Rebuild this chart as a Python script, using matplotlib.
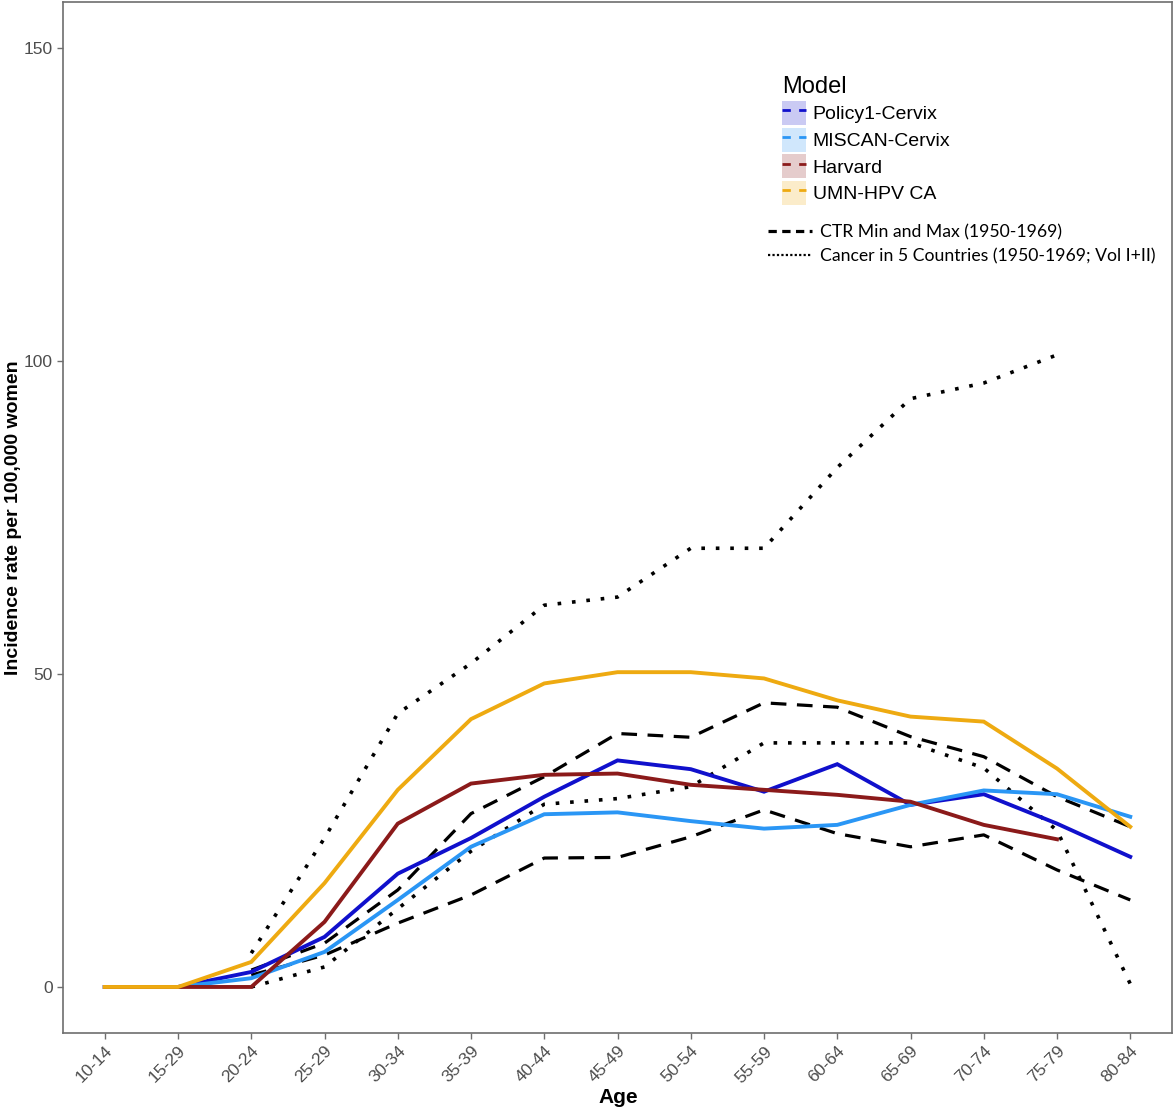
import numpy as np
import matplotlib
matplotlib.use("Agg")
import matplotlib.pyplot as plt
from matplotlib.patches import Patch
from matplotlib.lines import Line2D

plt.rcParams['font.family'] = ['Liberation Sans', 'DejaVu Sans']

nan = np.nan

# age groups (the "15-29" label is as in the original)
ages = ['10-14', '15-29', '20-24', '25-29', '30-34', '35-39', '40-44', '45-49',
        '50-54', '55-59', '60-64', '65-69', '70-74', '75-79', '80-84']

# model outputs, incidence per 100,000 women
policy1 = [0, 0, 2.4, 8.0, 18.1, 23.8, 30.4, 36.2, 34.8, 31.2, 35.6, 29.1, 30.8, 26.1, 20.8]
miscan = [0, 0, 1.4, 5.6, 13.9, 22.4, 27.6, 27.9, 26.5, 25.3, 25.9, 29.1, 31.4, 30.8, 27.2]
harvard = [0, 0, 0, 10.4, 26.1, 32.5, 33.9, 34.1, 32.3, 31.5, 30.7, 29.6, 25.9, 23.6, nan]
umn = [0, 0, 4.0, 16.6, 31.5, 42.8, 48.5, 50.3, 50.3, 49.3, 45.8, 43.2, 42.4, 34.9, 25.6]

# observed data
ctr_max = [nan, nan, 2.7, 7.0, 15.5, 27.7, 33.6, 40.5, 39.9, 45.4, 44.7, 40.0, 36.8, 30.4, 25.6]
ctr_min = [nan, nan, 1.9, 5.1, 10.2, 14.7, 20.6, 20.7, 24.0, 28.3, 24.5, 22.4, 24.3, 18.7, 13.9]
c5_upper = [nan, nan, 5.4, 23.8, 43.7, 51.7, 61.0, 62.3, 70.1, 70.1, 83.0, 94.0, 96.5, 101.0, nan]
c5_lower = [nan, nan, 0, 3.2, 12.5, 21.7, 29.2, 30.1, 32.0, 39.0, 39.0, 39.0, 35.0, 25.0, 0.5]

model_names = ['Policy1-Cervix', 'MISCAN-Cervix', 'Harvard', 'UMN-HPV CA']
model_colors = ['#1010CC', '#2A96F5', '#8B1A1A', '#EEAA11']
model_data = [policy1, miscan, harvard, umn]

fig = plt.figure(figsize=(11.76, 11.10), dpi=100)
ax = fig.add_axes([0.0536, 0.0694, 0.943, 0.9286])
x = np.arange(len(ages))

# observed lines first
dash = (0, (4.9, 3.3))
dot = (0, (1, 3))
ax.plot(x, ctr_max, color='black', lw=2.3, linestyle=dash)
ax.plot(x, ctr_min, color='black', lw=2.3, linestyle=dash)
ax.plot(x, c5_upper, color='black', lw=2.6, linestyle=dot)
ax.plot(x, c5_lower, color='black', lw=2.6, linestyle=dot)

for vals, col in zip(model_data, model_colors):
    ax.plot(x, vals, color=col, lw=2.8, solid_joinstyle='miter')

ax.set_xlim(-0.57, 14.57)
ax.set_ylim(-7.35, 157.35)
ax.set_xticks(x)
ax.set_xticklabels(ages, rotation=45, ha='right', rotation_mode='anchor')
ax.set_yticks([0, 50, 100, 150])
ax.tick_params(colors='#6E6E6E', labelcolor='#4D4D4D', labelsize=12.5, length=4, width=1)
for sp in ax.spines.values():
    sp.set_color('#6E6E6E')
    sp.set_linewidth(1.2)

narrow = ['Liberation Sans Narrow', 'Liberation Sans', 'DejaVu Sans']
ax.set_xlabel('Age', fontsize=15, fontweight='bold', family=narrow)
ax.xaxis.set_label_coords(0.5005, -0.053)
ax.set_ylabel('Incidence rate per 100,000 women', fontsize=14, fontweight='bold', family=narrow)
ax.yaxis.set_label_coords(-0.037, 0.5)

# model legend: light fill box with a dashed line on it
handles = []
for col in model_colors:
    handles.append((Patch(facecolor=col, alpha=0.22, edgecolor='none'),
                    Line2D([], [], color=col, lw=2, linestyle=(0, (3, 3)))))
leg1 = ax.legend(handles, model_names, title='Model', loc='upper left',
                 bbox_to_anchor=(0.648, 0.928), frameon=False,
                 prop={'size': 14}, title_fontproperties={'size': 17},
                 handlelength=1.25, handleheight=1.5, handletextpad=0.35,
                 labelspacing=0.15, borderaxespad=0, borderpad=0)
leg1._legend_box.align = 'left'
leg1._legend_box.sep = 2
ax.add_artist(leg1)

obs_handles = [Line2D([], [], color='black', lw=2.3, linestyle=(0, (2.6, 1.7))),
               Line2D([], [], color='black', lw=1.6, linestyle=(0, (1, 1)))]
obs_names = ['CTR Min and Max (1950-1969)', 'Cancer in 5 Countries (1950-1969; Vol I+II)']
ax.legend(obs_handles, obs_names, loc='upper left', bbox_to_anchor=(0.6357, 0.7847),
          frameon=False, prop={'family': ['Lato', 'DejaVu Sans'], 'size': 12.7},
          handlelength=2.5, handletextpad=0.46, labelspacing=0.45,
          borderaxespad=0, borderpad=0)

fig.savefig('out.png', dpi=100, facecolor='white')
